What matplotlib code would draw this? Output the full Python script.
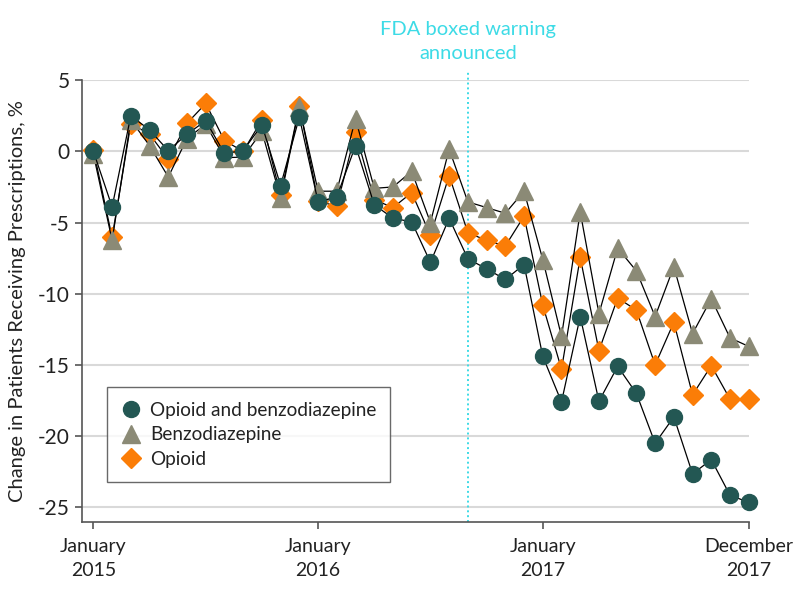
import matplotlib
matplotlib.use("Agg")
import matplotlib.pyplot as plt
from matplotlib.lines import Line2D

plt.rcParams['font.family'] = ['Lato', 'DejaVu Sans']

months = list(range(36))
opioid_benzo = [0.0, -3.9, 2.5, 1.5, 0.05, 1.2, 2.15, -0.15, 0.05, 1.85, -2.4, 2.4,
                -3.55, -3.2, 0.4, -3.75, -4.7, -4.95, -7.8, -4.7, -7.55, -8.25, -9.0, -7.95,
                -14.4, -17.6, -11.6, -17.55, -15.1, -17.0, -20.5, -18.65, -22.65, -21.65, -24.15, -24.65]
benzo = [-0.2, -6.25, 2.2, 0.4, -1.8, 0.9, 1.9, -0.45, -0.4, 1.4, -3.3, 3.1,
         -2.8, -2.8, 2.3, -2.6, -2.5, -1.4, -5.0, 0.15, -3.55, -3.95, -4.35, -2.8,
         -7.6, -13.0, -4.25, -11.4, -6.8, -8.4, -11.6, -8.1, -12.8, -10.35, -13.1, -13.7]
opioid = [0.1, -6.05, 1.95, 1.2, -0.55, 1.97, 3.36, 0.75, 0.0, 2.2, -3.1, 3.2,
          -3.5, -3.85, 1.35, -3.4, -3.95, -2.9, -5.9, -1.7, -5.72, -6.25, -6.65, -4.55,
          -10.8, -15.3, -7.45, -14.0, -10.3, -11.15, -15.0, -12.0, -17.1, -15.05, -17.4, -17.4]

xtick_pos = [0, 12, 24, 35]
xtick_labels = ["January\n2015", "January\n2016", "January\n2017", "December\n2017"]
ytick_pos = [5, 0, -5, -10, -15, -20, -25]
fda_month = 20

c_circle = "#235753"
c_tri = "#8b8a76"
c_dia = "#fb7d07"
cyan = "#3ddbe6"

fig = plt.figure(figsize=(7.94, 5.98), dpi=100)
ax = fig.add_axes([0.1037, 0.1266, 0.8393, 0.7394])

ax.set_xlim(-0.59, 35)
ax.set_ylim(-26.05, 5)

for y in ytick_pos:
    ax.axhline(y, color="#d9d9d9", lw=1.5, zorder=0)

ax.plot([fda_month, fda_month], [-26.05, 5.6], color=cyan, lw=1.4, ls=(0, (1, 1.5)),
        clip_on=False, zorder=1)

ax.plot(months, opioid, color="black", lw=0.9, marker="D", ms=10.5, mfc=c_dia, mec=c_dia,
        clip_on=False, zorder=3)
ax.plot(months, benzo, color="black", lw=0.9, marker="^", ms=12.5, mfc=c_tri, mec=c_tri,
        clip_on=False, zorder=4)
ax.plot(months, opioid_benzo, color="black", lw=0.9, marker="o", ms=11.5, mfc=c_circle,
        mec=c_circle, clip_on=False, zorder=5)

for s in ["top", "right"]:
    ax.spines[s].set_visible(False)
for s in ["left", "bottom"]:
    ax.spines[s].set_color("#555555")
    ax.spines[s].set_linewidth(1.2)

ax.set_yticks(ytick_pos)
ax.set_yticklabels([str(v) for v in ytick_pos], fontsize=15)
ax.set_xticks(xtick_pos)
ax.set_xticklabels(xtick_labels, fontsize=14, linespacing=1.5)
ax.tick_params(axis="both", colors="#555555", labelcolor="#222222", length=5, width=1.2)
ax.tick_params(axis="x", pad=6)
ax.tick_params(axis="y", pad=4)

ax.set_ylabel("Change in Patients Receiving Prescriptions, %", fontsize=14.5, color="#222222")
ax.yaxis.set_label_coords(-0.085, 0.5)

ax.text(fda_month, 6.25, "FDA boxed warning\nannounced", color=cyan, fontsize=14.5,
        ha="center", va="bottom", linespacing=1.55)

handles = [
    Line2D([], [], ls="none", marker="o", ms=11.5, mfc=c_circle, mec=c_circle),
    Line2D([], [], ls="none", marker="^", ms=12.5, mfc=c_tri, mec=c_tri),
    Line2D([], [], ls="none", marker="D", ms=10.5, mfc=c_dia, mec=c_dia),
]
leg = ax.legend(handles, ["Opioid and benzodiazepine", "Benzodiazepine", "Opioid"],
                loc="upper left", bbox_to_anchor=(0.037, 0.305), borderaxespad=0,
                fontsize=13.7, frameon=True, fancybox=False, edgecolor="#444444",
                handletextpad=0.5, labelspacing=0.4, borderpad=0.75, handlelength=1.0)
leg.get_frame().set_linewidth(1.0)
for t in leg.get_texts():
    t.set_color("#222222")

fig.savefig("out.png", dpi=100, facecolor="white")
